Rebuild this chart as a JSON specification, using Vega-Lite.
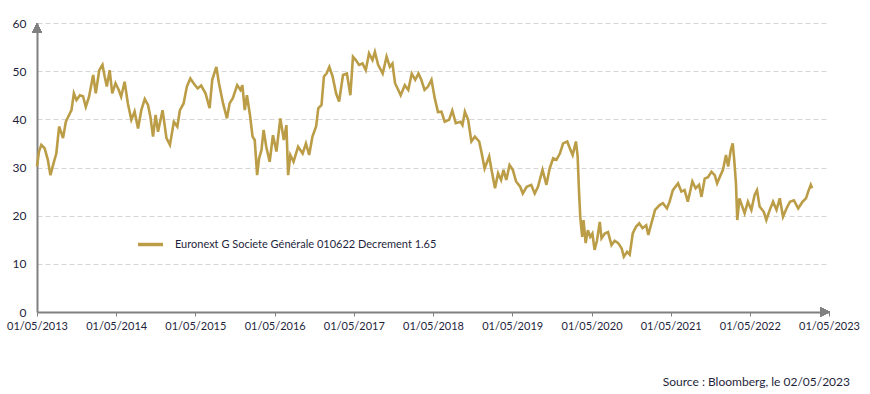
{
  "$schema": "https://vega.github.io/schema/vega-lite/v6.json",
  "width": 792,
  "height": 289,
  "autosize": {"type": "none"},
  "padding": {"left": 37, "top": 23, "right": 41, "bottom": 82},
  "background": "white",
  "config": {
    "view": {"stroke": null},
    "font": "Lato",
    "axis": {"labelFont": "Lato", "labelColor": "#1f1f3d"}
  },
  "title": {
    "text": "Source : Bloomberg, le 02/05/2023",
    "orient": "bottom",
    "anchor": "end",
    "frame": "group",
    "offset": 46,
    "dx": 21,
    "fontSize": 12,
    "fontWeight": "normal",
    "font": "Lato",
    "color": "#1f1f3d"
  },
  "data": {
    "values": [
      {"d":"2013-05-01","v":30.2},{"d":"2013-05-10","v":33.3},{"d":"2013-05-21","v":34.7},{"d":"2013-06-05","v":34.0},
      {"d":"2013-06-20","v":31.6},{"d":"2013-07-02","v":28.4},{"d":"2013-07-14","v":30.5},{"d":"2013-07-29","v":32.9},
      {"d":"2013-08-11","v":38.5},{"d":"2013-08-22","v":37.1},{"d":"2013-08-29","v":36.1},{"d":"2013-09-11","v":39.5},
      {"d":"2013-09-26","v":40.9},{"d":"2013-10-07","v":41.9},{"d":"2013-10-18","v":45.4},{"d":"2013-10-30","v":44.0},
      {"d":"2013-11-15","v":45.0},{"d":"2013-11-29","v":44.8},{"d":"2013-12-12","v":42.6},{"d":"2013-12-27","v":44.7},
      {"d":"2014-01-15","v":49.2},{"d":"2014-01-27","v":45.4},{"d":"2014-02-12","v":50.2},{"d":"2014-02-27","v":51.3},
      {"d":"2014-03-09","v":48.9},{"d":"2014-03-19","v":46.8},{"d":"2014-04-01","v":50.2},{"d":"2014-04-13","v":45.4},
      {"d":"2014-04-28","v":47.5},{"d":"2014-05-13","v":46.1},{"d":"2014-05-24","v":44.7},{"d":"2014-06-09","v":47.8},
      {"d":"2014-06-24","v":43.3},{"d":"2014-07-10","v":39.9},{"d":"2014-07-25","v":41.6},{"d":"2014-08-10","v":38.1},
      {"d":"2014-08-25","v":41.9},{"d":"2014-09-10","v":44.2},{"d":"2014-09-25","v":43.0},{"d":"2014-10-06","v":40.5},
      {"d":"2014-10-18","v":36.4},{"d":"2014-10-30","v":40.9},{"d":"2014-11-10","v":37.4},{"d":"2014-12-01","v":41.9},
      {"d":"2014-12-19","v":36.1},{"d":"2015-01-04","v":34.7},{"d":"2015-01-22","v":39.5},{"d":"2015-02-07","v":38.5},
      {"d":"2015-02-19","v":41.9},{"d":"2015-03-08","v":43.3},{"d":"2015-03-23","v":46.8},{"d":"2015-04-08","v":48.5},
      {"d":"2015-04-23","v":47.5},{"d":"2015-05-12","v":46.4},{"d":"2015-05-28","v":47.0},{"d":"2015-06-17","v":45.4},
      {"d":"2015-07-06","v":42.3},{"d":"2015-07-18","v":48.2},{"d":"2015-08-06","v":50.9},{"d":"2015-08-18","v":47.5},
      {"d":"2015-09-06","v":43.3},{"d":"2015-09-24","v":40.2},{"d":"2015-10-06","v":43.3},{"d":"2015-10-21","v":44.4},
      {"d":"2015-11-10","v":47.1},{"d":"2015-11-25","v":46.1},{"d":"2015-12-04","v":47.1},{"d":"2015-12-15","v":41.9},
      {"d":"2015-12-25","v":45.0},{"d":"2016-01-08","v":40.9},{"d":"2016-01-20","v":36.4},{"d":"2016-01-30","v":35.7},
      {"d":"2016-02-10","v":28.4},{"d":"2016-02-19","v":31.9},{"d":"2016-03-01","v":33.6},{"d":"2016-03-11","v":37.8},
      {"d":"2016-03-23","v":34.3},{"d":"2016-04-08","v":31.2},{"d":"2016-04-23","v":36.7},{"d":"2016-05-09","v":33.3},
      {"d":"2016-05-27","v":40.2},{"d":"2016-06-12","v":35.7},{"d":"2016-06-24","v":38.8},{"d":"2016-07-02","v":28.4},
      {"d":"2016-07-12","v":32.6},{"d":"2016-07-27","v":31.2},{"d":"2016-08-17","v":34.3},{"d":"2016-09-07","v":32.9},
      {"d":"2016-09-22","v":35.0},{"d":"2016-10-07","v":32.6},{"d":"2016-10-22","v":36.4},{"d":"2016-11-08","v":38.5},
      {"d":"2016-11-18","v":42.3},{"d":"2016-12-03","v":43.0},{"d":"2016-12-14","v":48.9},{"d":"2016-12-26","v":49.5},
      {"d":"2017-01-08","v":50.9},{"d":"2017-01-23","v":48.9},{"d":"2017-02-08","v":45.4},{"d":"2017-02-22","v":43.7},
      {"d":"2017-03-12","v":49.2},{"d":"2017-03-30","v":49.5},{"d":"2017-04-15","v":45.0},{"d":"2017-04-27","v":53.0},
      {"d":"2017-05-10","v":52.3},{"d":"2017-05-25","v":51.3},{"d":"2017-06-10","v":51.6},{"d":"2017-06-25","v":50.2},
      {"d":"2017-07-10","v":53.7},{"d":"2017-07-26","v":52.3},{"d":"2017-08-06","v":54.0},{"d":"2017-08-21","v":51.3},
      {"d":"2017-09-11","v":49.5},{"d":"2017-09-29","v":53.0},{"d":"2017-10-14","v":50.9},{"d":"2017-10-26","v":51.6},
      {"d":"2017-11-07","v":47.5},{"d":"2017-11-22","v":46.1},{"d":"2017-12-03","v":45.0},{"d":"2017-12-22","v":47.1},
      {"d":"2018-01-07","v":46.1},{"d":"2018-01-23","v":49.5},{"d":"2018-02-08","v":48.2},{"d":"2018-02-23","v":49.5},
      {"d":"2018-03-08","v":48.2},{"d":"2018-03-23","v":46.1},{"d":"2018-04-08","v":46.8},{"d":"2018-04-24","v":48.2},
      {"d":"2018-05-09","v":44.4},{"d":"2018-05-24","v":41.5},{"d":"2018-06-09","v":41.6},{"d":"2018-06-24","v":39.5},
      {"d":"2018-07-14","v":39.9},{"d":"2018-07-29","v":41.8},{"d":"2018-08-14","v":39.2},{"d":"2018-09-05","v":39.5},
      {"d":"2018-09-14","v":38.8},{"d":"2018-09-25","v":41.6},{"d":"2018-10-10","v":39.9},{"d":"2018-10-25","v":35.4},
      {"d":"2018-11-10","v":36.4},{"d":"2018-11-30","v":35.4},{"d":"2018-12-10","v":33.3},{"d":"2018-12-25","v":29.8},
      {"d":"2019-01-15","v":32.3},{"d":"2019-01-26","v":29.5},{"d":"2019-02-11","v":25.7},{"d":"2019-02-25","v":28.8},
      {"d":"2019-03-11","v":27.4},{"d":"2019-03-22","v":29.5},{"d":"2019-04-04","v":27.4},{"d":"2019-04-19","v":30.5},
      {"d":"2019-05-04","v":29.5},{"d":"2019-05-19","v":27.1},{"d":"2019-06-07","v":26.0},{"d":"2019-06-19","v":24.6},
      {"d":"2019-07-07","v":26.0},{"d":"2019-07-28","v":26.4},{"d":"2019-08-13","v":24.6},{"d":"2019-08-28","v":26.0},
      {"d":"2019-09-18","v":29.5},{"d":"2019-10-06","v":26.4},{"d":"2019-10-21","v":29.8},{"d":"2019-11-06","v":31.9},
      {"d":"2019-11-21","v":31.6},{"d":"2019-12-07","v":32.9},{"d":"2019-12-22","v":35.0},{"d":"2020-01-10","v":35.4},
      {"d":"2020-01-22","v":34.0},{"d":"2020-02-04","v":32.6},{"d":"2020-02-19","v":35.4},{"d":"2020-02-27","v":32.3},
      {"d":"2020-03-04","v":25.3},{"d":"2020-03-10","v":19.8},{"d":"2020-03-19","v":15.6},{"d":"2020-03-25","v":19.1},
      {"d":"2020-04-04","v":14.3},{"d":"2020-04-14","v":17.0},{"d":"2020-04-25","v":15.6},{"d":"2020-05-05","v":16.3},
      {"d":"2020-05-15","v":12.9},{"d":"2020-05-26","v":14.8},{"d":"2020-06-08","v":18.7},{"d":"2020-06-16","v":15.3},
      {"d":"2020-07-01","v":16.3},{"d":"2020-07-16","v":16.6},{"d":"2020-08-01","v":13.9},{"d":"2020-08-16","v":14.8},
      {"d":"2020-09-01","v":14.3},{"d":"2020-09-17","v":13.2},{"d":"2020-09-27","v":11.5},{"d":"2020-10-12","v":12.5},
      {"d":"2020-10-24","v":11.9},{"d":"2020-11-07","v":16.3},{"d":"2020-11-22","v":17.7},{"d":"2020-12-07","v":18.4},
      {"d":"2020-12-22","v":17.4},{"d":"2021-01-08","v":18.0},{"d":"2021-01-18","v":16.0},{"d":"2021-01-26","v":17.4},
      {"d":"2021-02-18","v":21.2},{"d":"2021-03-11","v":22.2},{"d":"2021-03-26","v":22.6},{"d":"2021-04-14","v":21.5},
      {"d":"2021-04-26","v":22.9},{"d":"2021-05-11","v":25.3},{"d":"2021-06-04","v":26.7},{"d":"2021-06-19","v":25.0},
      {"d":"2021-07-04","v":25.3},{"d":"2021-07-19","v":22.9},{"d":"2021-08-09","v":27.1},{"d":"2021-08-24","v":25.7},
      {"d":"2021-09-09","v":26.4},{"d":"2021-09-20","v":23.9},{"d":"2021-10-05","v":27.7},{"d":"2021-10-20","v":28.0},
      {"d":"2021-11-05","v":29.1},{"d":"2021-11-20","v":28.4},{"d":"2021-12-01","v":26.7},{"d":"2021-12-13","v":28.0},
      {"d":"2021-12-28","v":29.5},{"d":"2022-01-11","v":32.6},{"d":"2022-01-21","v":30.2},{"d":"2022-02-02","v":33.6},
      {"d":"2022-02-11","v":35.0},{"d":"2022-02-18","v":31.6},{"d":"2022-02-26","v":26.7},{"d":"2022-03-04","v":19.1},
      {"d":"2022-03-14","v":23.6},{"d":"2022-03-27","v":21.9},{"d":"2022-04-07","v":20.5},{"d":"2022-04-22","v":22.9},
      {"d":"2022-05-08","v":21.2},{"d":"2022-05-23","v":24.3},{"d":"2022-06-03","v":25.3},{"d":"2022-06-15","v":21.9},
      {"d":"2022-07-04","v":20.8},{"d":"2022-07-16","v":19.1},{"d":"2022-08-01","v":21.2},{"d":"2022-08-16","v":22.9},
      {"d":"2022-09-01","v":21.2},{"d":"2022-09-16","v":23.6},{"d":"2022-10-01","v":19.8},{"d":"2022-10-17","v":21.5},
      {"d":"2022-11-02","v":22.9},{"d":"2022-11-20","v":23.2},{"d":"2022-12-10","v":21.5},{"d":"2022-12-30","v":22.9},
      {"d":"2023-01-15","v":23.6},{"d":"2023-01-25","v":25.0},{"d":"2023-02-06","v":26.4},{"d":"2023-02-12","v":25.7}
    ]
  },
  "layer": [
    {
      "mark": {"type": "line", "strokeWidth": 2.6, "interpolate": "linear"},
      "encoding": {
        "x": {
          "field": "d",
          "type": "temporal",
          "scale": {
            "type": "utc",
            "domain": [
              {"year": 2013, "month": 5, "date": 1, "utc": true},
              {"year": 2023, "month": 5, "date": 1, "utc": true}
            ],
            "nice": false
          },
          "axis": {
            "title": null,
            "values": [
              {"year": 2013, "month": 5, "date": 1, "utc": true},
              {"year": 2014, "month": 5, "date": 1, "utc": true},
              {"year": 2015, "month": 5, "date": 1, "utc": true},
              {"year": 2016, "month": 5, "date": 1, "utc": true},
              {"year": 2017, "month": 5, "date": 1, "utc": true},
              {"year": 2018, "month": 5, "date": 1, "utc": true},
              {"year": 2019, "month": 5, "date": 1, "utc": true},
              {"year": 2020, "month": 5, "date": 1, "utc": true},
              {"year": 2021, "month": 5, "date": 1, "utc": true},
              {"year": 2022, "month": 5, "date": 1, "utc": true},
              {"year": 2023, "month": 5, "date": 1, "utc": true}
            ],
            "labelExpr": "utcFormat(datum.value, '%d/%m/%Y')",
            "labelFontSize": 11,
            "labelPadding": 4,
            "labelOverlap": false,
            "labelFlush": false,
            "grid": false,
            "ticks": true,
            "tickSize": 4,
            "tickColor": "#808080",
            "tickWidth": 1,
            "domainColor": "#808080",
            "domainWidth": 2,
            "zindex": 1
          }
        },
        "y": {
          "field": "v",
          "type": "quantitative",
          "scale": {"domain": [0, 60], "nice": false},
          "axis": {
            "title": null,
            "values": [0, 10, 20, 30, 40, 50, 60],
            "labelFontSize": 12,
            "labelPadding": 11,
            "ticks": false,
            "grid": true,
            "gridColor": "#d6d6d6",
            "gridDash": [5, 3],
            "gridWidth": 1,
            "domainColor": "#808080",
            "domainWidth": 2,
            "zindex": 0
          }
        },
        "color": {
          "datum": "Euronext G Societe Générale 010622 Decrement 1.65",
          "type": "nominal",
          "scale": {"range": ["#BB9D47"]},
          "legend": {
            "title": null,
            "orient": "none",
            "legendX": 99,
            "legendY": 207,
            "symbolType": "stroke",
            "symbolSize": 625,
            "symbolStrokeWidth": 3.5,
            "labelFontSize": 11,
            "labelFont": "Lato",
            "labelColor": "#1f1f3d",
            "labelOffset": 10,
            "labelLimit": 0,
            "padding": 0
          }
        }
      }
    },
    {
      "mark": {"type": "point", "shape": "M-1,1L0,-1L1,1Z", "filled": true, "color": "#808080", "size": 95, "opacity": 1},
      "encoding": {
        "x": {"datum": {"year": 2013, "month": 5, "date": 1, "utc": true}, "type": "temporal"},
        "y": {"datum": 58.95, "type": "quantitative"}
      }
    },
    {
      "mark": {"type": "point", "shape": "M-1,-1L1,0L-1,1Z", "filled": true, "color": "#808080", "size": 80, "opacity": 1},
      "encoding": {
        "x": {"datum": {"year": 2023, "month": 4, "date": 12, "utc": true}, "type": "temporal"},
        "y": {"datum": 0, "type": "quantitative"}
      }
    }
  ]
}
